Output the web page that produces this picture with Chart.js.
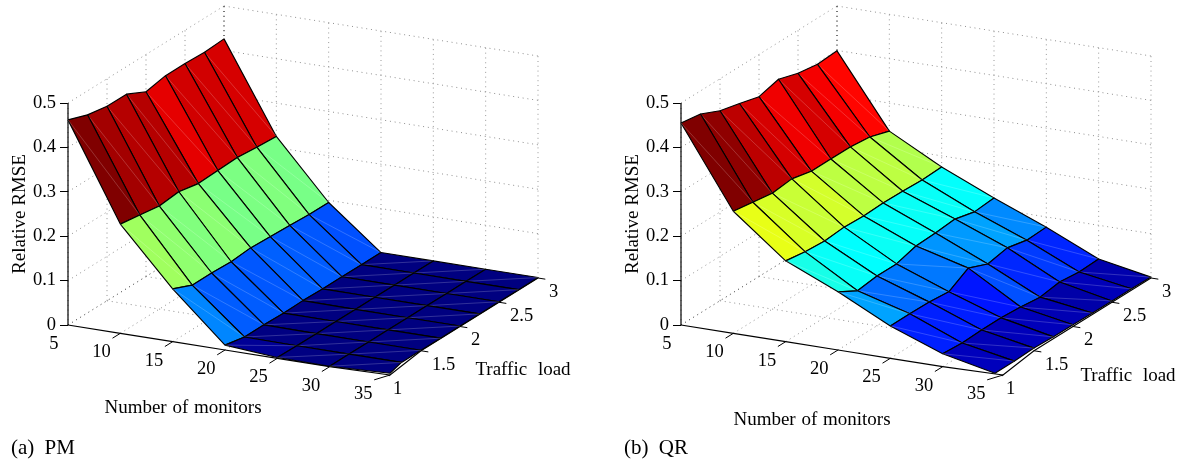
<!DOCTYPE html>
<html><head><meta charset="utf-8">
<style>html,body{margin:0;padding:0;background:#fff;overflow:hidden}canvas{position:absolute;top:0}</style>
<script src="https://cdn.jsdelivr.net/npm/chart.js@4"></script>
</head><body>
<canvas id="pm" width="613" height="460" style="left:0"></canvas>
<canvas id="qr" width="572" height="460" style="left:613px"></canvas>
<script>
const monitors=[5,10,15,20,25,30,35];
const trafficLoad=[1,1.25,1.5,1.75,2,2.25,2.5,2.75,3];
const monitorTicks=[5,10,15,20,25,30,35];
const loadTicks=[1,1.5,2,2.5,3];
const rmseTicks=[0,0.1,0.2,0.3,0.4,0.5];
const pmRmse=[
 [.462,.446,.438,.438,.416,.425,.425,.423,.426],
 [.246,.239,.232,.237,.228,.230,.232,.228,.225],
 [.119,.100,.100,.098,.102,.100,.098,.095,.095],
 [.011,.002,.002,.001,.002,.001,.001,.001,.001],
 [.002,.001,.001,.001,.001,.001,.001,.001,.001],
 [.001,.001,.001,.001,.001,.001,.001,.001,.001],
 [.004,.001,.001,.001,.001,.001,.001,.001,.001]];
const qrRmse=[
 [.455,.448,.428,.417,.405,.417,.403,.396,.399],
 [.275,.268,.261,.266,.256,.256,.256,.251,.237],
 [.182,.175,.172,.176,.174,.176,.175,.173,.175],
 [.131,.106,.112,.112,.125,.127,.131,.120,.124],
 [.073,.073,.072,.068,.094,.076,.085,.075,.077],
 [.029,.026,.028,.028,.025,.020,.027,.022,.024],
 [.004,.004,.006,.004,.004,.003,.003,.003,.002]];

const FONT='"Liberation Serif","Times New Roman",serif';
const Z_PX=444, TOP=20, ORIGIN=325, BOTTOM=408;
const X_VEC=[314,50], Y_VEC=[156,-97];

function jet(t){
  const c=v=>Math.round(255*Math.max(0,Math.min(1,v)));
  return `rgb(${c(1.5-Math.abs(4*t-3))},${c(1.5-Math.abs(4*t-2))},${c(1.5-Math.abs(4*t-1))})`;
}

function panel(id,values,caption,surfaceCorner,xLabelAt,yLabelAt){
  const project=(x,y,z,corner)=>{
    const u=(x-5)/30,v=(y-1)/2;
    const extra=(x===35&&y===1)?corner:0;
    return {x:X_VEC[0]*u+Y_VEC[0]*v+extra, y:z-(X_VEC[1]*u+Y_VEC[1]*v)/Z_PX};
  };
  const datasets=[];
  const line=(pts,color,width,dash)=>datasets.push({data:pts,showLine:true,pointRadius:0,borderColor:color,borderWidth:width,borderDash:dash||[],fill:false,clip:false});
  const grey='#8f8f8f', dots=[1,3.8];
  // walls and floor grid
  rmseTicks.forEach(z=>{
    line([project(5,1,z,0),project(5,3,z,0)],z===0?'#333':grey,1,dots);
    line([project(5,3,z,0),project(35,3,z,0)],grey,1,dots);
  });
  loadTicks.forEach(y=>{
    line([project(5,y,0,0),project(5,y,.5,0)],grey,1,dots);
    if(y>1) line([project(5,y,0,0),project(35,y,0,0)],grey,1,dots);
  });
  monitorTicks.forEach(x=>{
    if(x>5) line([project(x,3,0,0),project(x,3,.5,0)],'#999',1,dots);
    if(x>5&&x<35) line([project(x,1,0,0),project(x,3,0,0)],grey,1,dots);
  });
  line([project(5,3,0,0),project(5,3,.5,0)],'#222',1,dots);
  // axes
  line([project(5,1,0,0),project(5,1,.5,0)],'#000',1.2);
  line(monitorTicks.map(x=>project(x,1,0,8)),'#000',1.1);
  line([project(35,1,0,8),project(35,1.5,0,0),project(35,3,0,0)],'#000',1.1);
  monitorTicks.slice(1).forEach(x=>line([project(x,1,0,8),project(x,.9,0,x===35?8:0)],'#000',1));
  loadTicks.forEach(y=>line([project(35,y,0,y===1?8:0),project(35.7,y,0,0)],'#000',1));
  // surface, back to front
  const flat=values.flat(), lo=Math.min(...flat), hi=Math.max(...flat);
  for(let i=0;i<monitors.length-1;i++){
    for(let j=trafficLoad.length-2;j>=0;j--){
      const a=project(monitors[i],trafficLoad[j],values[i][j],surfaceCorner),
            b=project(monitors[i],trafficLoad[j+1],values[i][j+1],surfaceCorner),
            c=project(monitors[i+1],trafficLoad[j+1],values[i+1][j+1],surfaceCorner),
            d=project(monitors[i+1],trafficLoad[j],values[i+1][j],surfaceCorner);
      datasets.push({data:[a,b,c,d,a],showLine:true,pointRadius:0,fill:'shape',
        backgroundColor:jet((values[i][j]-lo)/(hi-lo)),borderColor:'#000',borderWidth:1.15,borderJoinStyle:'round',clip:false});
      line([a,c],'rgba(255,255,255,0.28)',0.7);
    }
  }
  datasets.reverse(); // Chart.js paints the first dataset last
  const labels={
    id:'labels',
    afterDraw(chart){
      const {ctx,scales:{x:sx,y:sy}}=chart;
      const at=p=>[sx.getPixelForValue(p.x),sy.getPixelForValue(p.y)];
      ctx.save();
      ctx.fillStyle='#000';
      ctx.textBaseline='middle';
      ctx.font='18.5px '+FONT;
      ctx.textAlign='right';
      monitorTicks.forEach(x=>{const [px,py]=at(project(x,1,0,0));ctx.fillText(String(x),px-9.5,py+19);});
      ctx.textAlign='left';
      loadTicks.forEach(y=>{const [px,py]=at(project(35,y,0,0));ctx.fillText(String(y),px+11,py+14);});
      ctx.font='19px '+FONT;
      ctx.textAlign='center';
      ctx.wordSpacing='1px';
      ctx.fillText('Number of monitors',xLabelAt[0],xLabelAt[1]+2);
      ctx.wordSpacing='6px';
      ctx.fillText('Traffic load',yLabelAt[0],yLabelAt[1]+2);
      ctx.font='21px '+FONT;
      ctx.textAlign='left';
      ctx.wordSpacing='5px';
      ctx.fillText(caption,11,448);
      ctx.restore();
    }
  };
  new Chart(document.getElementById(id),{
    type:'scatter',
    data:{datasets},
    plugins:[labels],
    options:{
      responsive:false,animation:false,
      layout:{padding:{top:TOP,bottom:460-BOTTOM,left:0,right:0}},
      plugins:{legend:{display:false},tooltip:{enabled:false}},
      elements:{line:{tension:0}},
      scales:{
        x:{type:'linear',display:false,min:0,max:document.getElementById(id).width-68},
        y:{type:'linear',position:'left',
           min:(ORIGIN-BOTTOM)/Z_PX,max:(ORIGIN-TOP)/Z_PX,
           afterFit(s){s.width=68;},
           afterBuildTicks(s){s.ticks=rmseTicks.map(v=>({value:v}));},
           border:{display:false},
           grid:{drawOnChartArea:false,drawTicks:true,tickLength:8,color:'#000',lineWidth:1},
           ticks:{autoSkip:false,padding:4,color:'#000',font:{family:FONT,size:18.5},
                  callback:v=>v===0?'0':v.toFixed(1)},
           title:{display:true,text:'Relative RMSE',color:'#000',font:{family:FONT,size:19},padding:{top:9,bottom:0}}
        }
      }
    }
  });
}
panel('pm',pmRmse,'(a) PM',8,[183,406],[523,368]);
panel('qr',qrRmse,'(b) QR',0,[199,418],[515,374]);
</script>
</body></html>
